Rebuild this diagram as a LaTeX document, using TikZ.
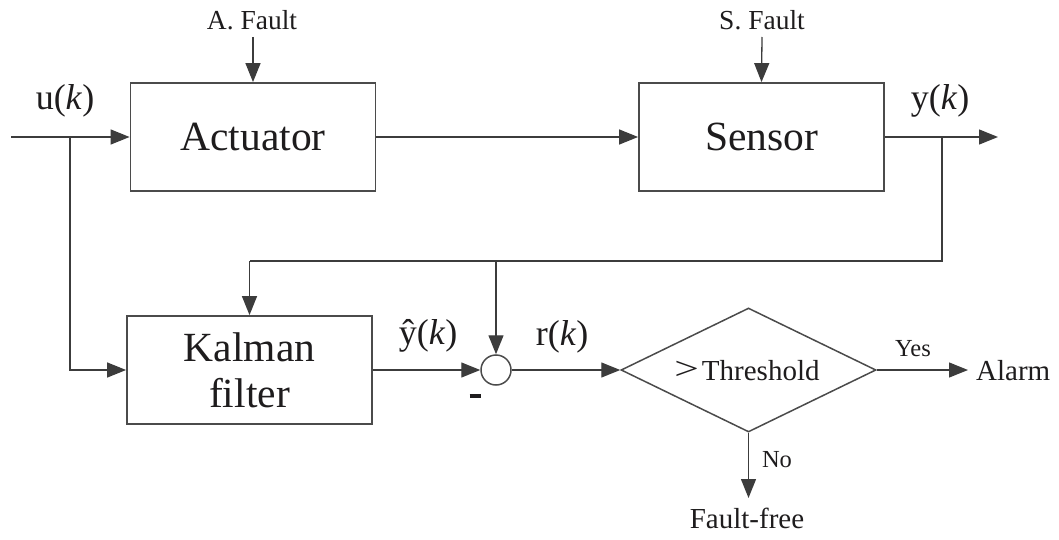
\documentclass[tikz,border=0pt]{standalone}
\usepackage{fontspec}
\usepackage{graphicx}
\setmainfont{Liberation Serif}
\usetikzlibrary{arrows.meta,shapes.geometric}
\definecolor{ink}{RGB}{30,28,29}
\definecolor{wire}{RGB}{60,60,60}
\definecolor{frame}{RGB}{75,75,75}
\begin{document}
\begin{tikzpicture}[x=1pt,y=-1pt,
  blockbox/.style={draw=frame,line width=1.8pt,rectangle,minimum width=245pt,minimum height=108pt,inner sep=0pt,text=ink,font=\fontsize{41.5}{46}\selectfont,align=center},
  sumnode/.style={draw=frame,line width=1.5pt,circle,minimum size=30pt,inner sep=0pt},
  decide/.style={draw=frame,line width=1.5pt,diamond,minimum width=255pt,minimum height=124pt,inner sep=0pt},
  sig/.style={draw=wire,line width=1.3pt,-{Triangle[length=19pt,width=15pt]}},
  wireline/.style={draw=wire,line width=1.3pt},
  faultlbl/.style={text=ink,font=\fontsize{27.5}{29}\selectfont,inner sep=0pt},
  siglbl/.style={text=ink,font=\fontsize{36}{38}\selectfont,inner sep=0pt},
  outlbl/.style={text=ink,font=\fontsize{29}{31}\selectfont,inner sep=0pt},
  branchlbl/.style={text=ink,font=\fontsize{24.5}{26}\selectfont,inner sep=0pt}]
\useasboundingbox (0,0) rectangle (1059,540);

% blocks
\node[blockbox] (act) at (253,137) {Actuator};
\node[blockbox] (sen) at (761.5,137) {Sensor};
\node[blockbox] (kal) at (249.5,370) {Kalman\\filter};
\node[sumnode] (sum) at (496,370) {};
\node[decide] (thr) at (748.5,370) {};
\node[outlbl] (thrtxt) at (747,371) {\raisebox{1pt}{\scalebox{1.5}[1.1]{>}}\hspace{3pt}Threshold};

% fault inputs
\node[faultlbl] (af) at (252,20) {A. Fault};
\node[faultlbl] (sf) at (762,20) {S. Fault};
\coordinate (afs) at (253,37);
\coordinate (sfs) at (762,37);
\draw[sig] (afs) -- (act.north);
\draw[sig] (sfs) -- (sen.north);

% input u(k)
\coordinate (uin) at (11,137);
\coordinate (ubr) at (70,137);
\node[siglbl] (ulbl) at (65,101) {u(\textit{k})};
\draw[sig] (uin) -- (act.west);
\draw[sig] (ubr) |- (kal.west);

% plant chain and output y(k)
\draw[sig] (act.east) -- (sen.west);
\coordinate (yout) at (998,137);
\coordinate (ybr) at (942,137);
\coordinate (fbr) at (942,261);
\coordinate (fsum) at (496,261);
\coordinate (fkal) at (249.5,261);
\node[siglbl] (ylbl) at (940,101) {y(\textit{k})};
\draw[sig] (sen.east) -- (yout);
\draw[wireline] (ybr) -- (fbr) -- (fkal);
\draw[sig] (fkal) -- (kal.north);
\draw[sig] (fsum) -- (sum.north);

% residual path
\node[siglbl] (yhat) at (428,336) {\^{y}(\textit{k})};
\node[siglbl] (rlbl) at (562,337) {r(\textit{k})};
\node[text=ink,inner sep=0pt] (minus) at (475,396) {\rule{11pt}{4pt}};
\draw[sig] (kal.east) -- (sum.west);
\draw[sig] (sum.east) -- (thr.west);

% decision outputs
\coordinate (alarmtip) at (968,370);
\node[outlbl,anchor=west] (alarm) at (976,371) {Alarm};
\node[branchlbl] (yes) at (913,349) {Yes};
\draw[sig] (thr.east) -- (alarmtip);
\coordinate (freetip) at (748.5,498);
\node[outlbl] (free) at (747,518) {Fault-free};
\node[branchlbl] (no) at (777,460) {No};
\draw[sig] (thr.south) -- (freetip);
\end{tikzpicture}
\end{document}
